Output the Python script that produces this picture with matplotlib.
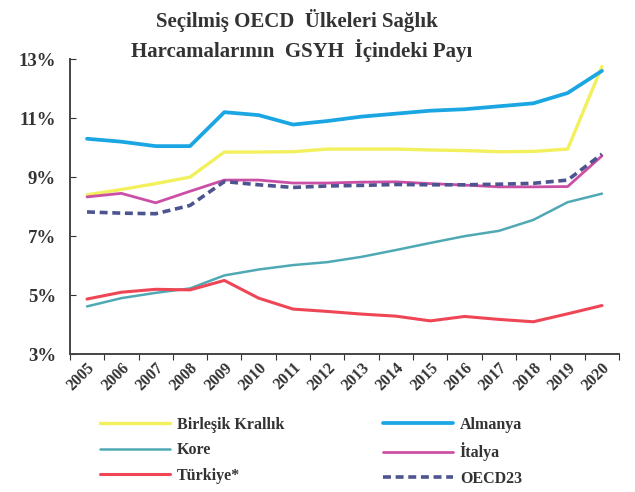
import matplotlib.pyplot as plt
from matplotlib.ticker import FixedLocator, FuncFormatter

plt.rcParams['font.family'] = ['Liberation Serif', 'DejaVu Serif']
plt.rcParams['font.weight'] = 'bold'

years = list(range(2005, 2021))
germany = [10.3, 10.2, 10.05, 10.05, 11.2, 11.1, 10.78, 10.9, 11.05, 11.15, 11.25, 11.3, 11.4, 11.5, 11.85, 12.6]
uk = [8.4, 8.58, 8.78, 9.0, 9.85, 9.85, 9.86, 9.95, 9.95, 9.95, 9.92, 9.9, 9.86, 9.87, 9.95, 12.75]
italy = [8.33, 8.45, 8.13, 8.52, 8.9, 8.9, 8.8, 8.8, 8.83, 8.84, 8.78, 8.73, 8.67, 8.67, 8.68, 9.72]
oecd23 = [7.82, 7.78, 7.76, 8.04, 8.85, 8.74, 8.65, 8.7, 8.72, 8.75, 8.74, 8.74, 8.76, 8.79, 8.9, 9.78]
korea = [4.62, 4.9, 5.08, 5.23, 5.67, 5.87, 6.02, 6.12, 6.3, 6.53, 6.77, 7.0, 7.18, 7.55, 8.15, 8.44]
turkey = [4.87, 5.1, 5.2, 5.18, 5.5, 4.9, 4.53, 4.45, 4.36, 4.29, 4.13, 4.28, 4.18, 4.1, 4.37, 4.65]

fig = plt.figure(figsize=(6.35, 4.92), dpi=100)
ax = fig.add_axes([0.11, 0.28, 0.865, 0.60])

x = list(range(len(years)))
l_uk, = ax.plot(x, uk, color='#f2f05c', lw=2.4, label='Birleşik Krallık', solid_capstyle='round')
l_ko, = ax.plot(x, korea, color='#4fa9b4', lw=1.8, label='Kore', solid_capstyle='round')
l_tr, = ax.plot(x, turkey, color='#ef4656', lw=2.2, label='Türkiye*', solid_capstyle='round')
l_de, = ax.plot(x, germany, color='#1aa5e3', lw=2.7, label='Almanya', solid_capstyle='round')
l_it, = ax.plot(x, italy, color='#cc4fa6', lw=2.0, label='İtalya', solid_capstyle='round')
l_oe, = ax.plot(x, oecd23, color='#4d5590', lw=2.6, ls=(0, (2.2, 1.3)), label='OECD23')

ax.set_xlim(-0.5, len(years) - 0.5)
ax.set_ylim(3, 13)
ax.set_yticks([3, 5, 7, 9, 11, 13])
ax.yaxis.set_major_formatter(FuncFormatter(lambda v, p: f'{v:.0f}%'))
ax.tick_params(axis='y', direction='in', length=4, labelsize=13.5, pad=10, colors='#333333')

# ticks between categories, labels at the centres
ax.xaxis.set_major_locator(FixedLocator([i - 0.5 for i in range(len(years) + 1)]))
ax.xaxis.set_major_formatter(FuncFormatter(lambda v, p: ''))
ax.xaxis.set_minor_locator(FixedLocator(x))
ax.set_xticklabels([str(y) for y in years], minor=True, rotation=45, ha='right', rotation_mode='anchor')
ax.tick_params(axis='x', which='major', direction='out', length=4, colors='#333333')
ax.tick_params(axis='x', which='minor', length=0, labelsize=11.5, pad=4, labelcolor='#333333')

for s in ['top', 'right']:
    ax.spines[s].set_visible(False)
for s in ['left', 'bottom']:
    ax.spines[s].set_color('#444444')
    ax.spines[s].set_linewidth(1.4)

fig.text(0.468, 0.945, 'Seçilmiş OECD  Ülkeleri Sağlık', ha='center', fontsize=15, color='#333333')
fig.text(0.475, 0.885, 'Harcamalarının  GSYH  İçindeki Payı', ha='center', fontsize=15, color='#333333')

fig.legend(handles=[l_uk, l_ko, l_tr, l_de, l_it, l_oe], ncol=2, frameon=False,
           loc='upper left', bbox_to_anchor=(0.135, 0.182), fontsize=11.5,
           handlelength=4.4, columnspacing=6.2, labelspacing=0.6, handletextpad=0.4,
           labelcolor='#333333')

fig.savefig('out.png', dpi=100)
